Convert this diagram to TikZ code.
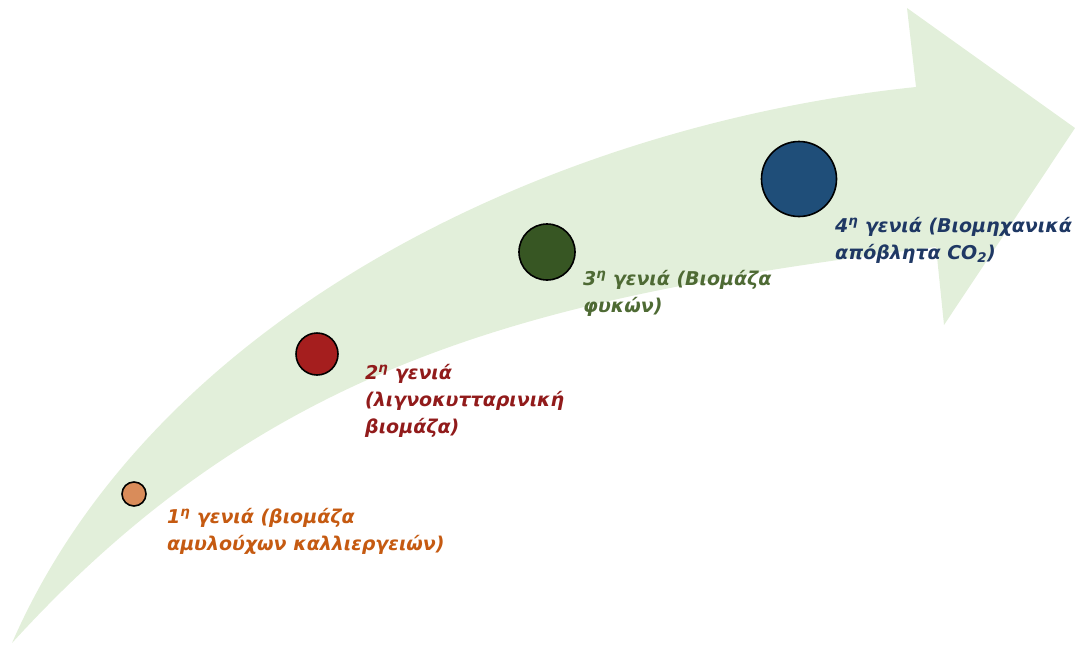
\documentclass[tikz,border=0pt]{standalone}
\usepackage{fontspec}
\setmainfont{DejaVu Sans}
\usepackage{tikz}
\usetikzlibrary{positioning}
\usepackage{xcolor}
\definecolor{bandcolor}{RGB}{226,239,218}
\definecolor{firstcolor}{RGB}{217,140,90}
\definecolor{firsttextcolor}{RGB}{197,90,17}
\definecolor{secondcolor}{RGB}{165,30,30}
\definecolor{secondtextcolor}{RGB}{145,27,27}
\definecolor{thirdcolor}{RGB}{55,86,35}
\definecolor{thirdtextcolor}{RGB}{78,106,52}
\definecolor{fourthcolor}{RGB}{31,78,121}
\definecolor{fourthtextcolor}{RGB}{31,56,100}

\begin{document}
\begin{tikzpicture}[x=1pt, y=-1pt]
  \tikzset{
    gen/.style={
      circle,
      draw=black,
      line width=1.6pt,
      inner sep=0pt
    },
    genlabel/.style={
      anchor=base west,
      align=left,
      inner sep=0pt,
      font=\bfseries\itshape\fontsize{19}{27}\selectfont
    }
  }
  \useasboundingbox (0,0) rectangle (1075,645);

  % Curved arrow (light green)
  \fill[bandcolor] (12,643) .. controls (155,315) and (550,125) .. (916,87)
    -- (907,8) -- (1075,128) -- (944,325) -- (936,247)
    .. controls (536,297) and (270,360) .. (12,643)
    -- cycle;

  % 1st generation (orange)
  \node[gen, fill=firstcolor, minimum size=24pt] (g1) at (134,494) {};
  \node[genlabel, text=firsttextcolor] (t1) at (167,550) {1\textsuperscript{η} γενιά (βιομάζα\\αμυλούχων καλλιεργειών)};

  % 2nd generation (red)
  \node[gen, fill=secondcolor, minimum size=42pt] (g2) at (317,354) {};
  \node[genlabel, text=secondtextcolor] (t2) at (365,433) {2\textsuperscript{η} γενιά\\(λιγνοκυτταρινική\\βιομάζα)};

  % 3rd generation (green)
  \node[gen, fill=thirdcolor, minimum size=56pt] (g3) at (547,252) {};
  \node[genlabel, text=thirdtextcolor] (t3) at (583,312) {3\textsuperscript{η} γενιά (Βιομάζα\\φυκών)};

  % 4th generation (blue)
  \node[gen, fill=fourthcolor, minimum size=75pt] (g4) at (799,179) {};
  \node[genlabel, text=fourthtextcolor] (t4) at (835,259) {4\textsuperscript{η} γενιά (Βιομηχανικά\\απόβλητα CO\textsubscript{2})};
\end{tikzpicture}
\end{document}
